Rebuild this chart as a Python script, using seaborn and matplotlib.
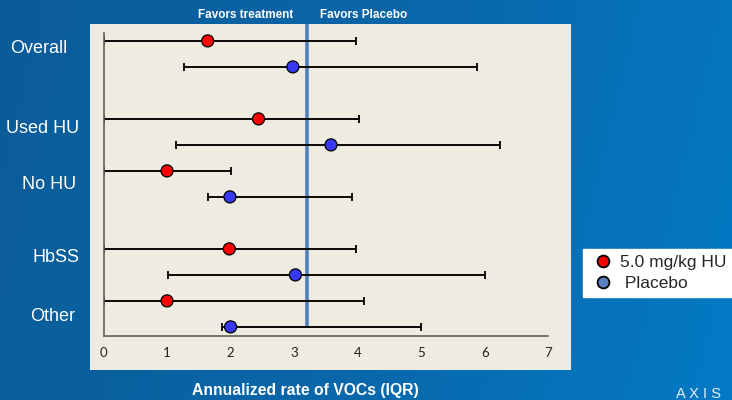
import numpy as np
import pandas as pd
import matplotlib
matplotlib.use("Agg")
import matplotlib.pyplot as plt
import seaborn as sns
from matplotlib.lines import Line2D
from matplotlib.patches import Rectangle
from matplotlib.colors import LinearSegmentedColormap
import matplotlib.transforms as mtransforms

# ---------------- data ----------------
subgroups = ["Overall", "Used HU", "No HU", "HbSS", "Other"]
arms = ["5.0 mg/kg HU", "Placebo"]
hu_median = [1.64, 2.44, 1.00, 1.98, 1.00]
hu_q1 = [0.0, 0.0, 0.0, 0.0, 0.0]
hu_q3 = [3.98, 4.02, 2.01, 3.97, 4.10]
pl_median = [2.98, 3.58, 1.99, 3.02, 2.00]
pl_q1 = [1.26, 1.14, 1.64, 1.01, 1.87]
pl_q3 = [5.88, 6.24, 3.91, 6.01, 5.00]
reference_rate = 3.2
x_ticks = [0, 1, 2, 3, 4, 5, 6, 7]

# ---------------- layout ----------------
row_slots = [0, 3, 5, 8, 10]       # vertical slot of first arm in each subgroup
arm_offset = {arms[0]: 0, arms[1]: 1}
label_dy = [0.3, 0.35, 0.54, 0.35, 0.6]      # label offset within the subgroup (slots)
label_xc = [39, 43, 49, 56.5, 53]            # label centre (pixels)
W, H = 732, 400

rows = []
for i, g in enumerate(subgroups):
    for arm, med, q1, q3 in ((arms[0], hu_median[i], hu_q1[i], hu_q3[i]),
                             (arms[1], pl_median[i], pl_q1[i], pl_q3[i])):
        rows.append(dict(subgroup=g, arm=arm, median=med, q1=q1, q3=q3,
                         y=row_slots[i] + arm_offset[arm]))
df = pd.DataFrame(rows)

sns.set_style("white")
plt.rcParams["font.family"] = ["Liberation Sans", "DejaVu Sans"]

fig = plt.figure(figsize=(W / 100, H / 100), dpi=100)

# background gradient
bg = fig.add_axes([0, 0, 1, 1], zorder=-10)
cmap = LinearSegmentedColormap.from_list("bg", ["#0A5C98", "#0A66A8", "#0479C4"])
gx = np.linspace(0, 1, 256)
gy = np.linspace(0, 1, 64)[:, None]
grad = np.clip(gx[None, :] * 0.9 + gy * 0.12, 0, 1)
bg.imshow(grad, cmap=cmap, aspect="auto", extent=[0, 1, 0, 1], vmin=0, vmax=1)
bg.set_axis_off()

# beige plot panel
fig.add_artist(Rectangle((90 / W, 1 - 370 / H), (571 - 90) / W, (370 - 24) / H,
                         transform=fig.transFigure, facecolor="#EEEBE0",
                         edgecolor="none", zorder=-5))

ax = fig.add_axes([103.5 / W, 1 - 336 / H, 444.8 / W, (336 - 24) / H])
ax.patch.set_alpha(0)
ax.set_xlim(0, 7)
ax.set_ylim(11.35, -0.65)

# reference line
ax.vlines(reference_rate, -0.65, 11.05, color="#4F81BD", lw=2.6, zorder=1)

# IQR bars
ax.errorbar(df["median"], df["y"],
            xerr=[df["median"] - df["q1"], df["q3"] - df["median"]],
            fmt="none", ecolor="black", elinewidth=1.35, capsize=3.0,
            capthick=1.3, zorder=2)

# medians
sns.scatterplot(data=df, x="median", y="y", hue="arm",
                palette={arms[0]: "#FF0000", arms[1]: "#3838F5"},
                s=75, edgecolor="black", linewidth=0.9, legend=False,
                ax=ax, zorder=3)

for s in ["top", "right"]:
    ax.spines[s].set_visible(False)
for s in ["left", "bottom"]:
    ax.spines[s].set_color("#606060")
    ax.spines[s].set_linewidth(1.2)
ax.spines["left"].set_bounds(11.35, -0.3)
ax.set_xticks(x_ticks)
ax.set_xticklabels([str(t) for t in x_ticks], fontsize=9.5, color="#222222",
                   family=["Lato", "DejaVu Sans"])
ax.tick_params(axis="x", direction="out", length=4, width=1.1, color="#606060", pad=4)
ax.set_yticks([])
ax.set_xlabel("")
ax.set_ylabel("")

# subgroup labels
trans = mtransforms.blended_transform_factory(fig.transFigure, ax.transData)
for i, g in enumerate(subgroups):
    fig.text(label_xc[i] / W, row_slots[i] + label_dy[i], g, transform=trans,
             ha="center", va="center", color="white", fontsize=13)

# favours labels
ax.annotate("Favors treatment", xy=(reference_rate, 1 - 15 / H),
            xycoords=("data", "figure fraction"), xytext=(-9.5, 0),
            textcoords="offset points", ha="right", va="center",
            color="white", fontsize=8.5, fontweight="bold")
ax.annotate("Favors Placebo", xy=(reference_rate, 1 - 15 / H),
            xycoords=("data", "figure fraction"), xytext=(9.5, 0),
            textcoords="offset points", ha="left", va="center",
            color="white", fontsize=8.5, fontweight="bold")

fig.text(305 / W, 1 - 391 / H, "Annualized rate of VOCs (IQR)", ha="center",
         va="center", color="white", fontsize=11.3, fontweight="bold")

# legend
handles = [Line2D([], [], ls="none", marker="o", markersize=8.5,
                  markerfacecolor="#FF0000", markeredgecolor="black", markeredgewidth=1.3),
           Line2D([], [], ls="none", marker="o", markersize=8.5,
                  markerfacecolor="#5B82C0", markeredgecolor="black", markeredgewidth=1.3)]
leg = fig.legend(handles, [arms[0], " " + arms[1]], loc="upper left",
                 bbox_to_anchor=(583 / W, 1 - 249 / H), frameon=True,
                 fancybox=False, facecolor="white", edgecolor="white",
                 framealpha=1, fontsize=12.5, handletextpad=0.2,
                 labelspacing=0.3, borderpad=0.35, handlelength=1.6,
                 borderaxespad=0)

# logo
fig.text(676 / W, 1 - 398 / H, "A X I S", ha="left", va="baseline",
         color="#E6EEF6", fontsize=10.5)

fig.savefig("out.png", dpi=100)
